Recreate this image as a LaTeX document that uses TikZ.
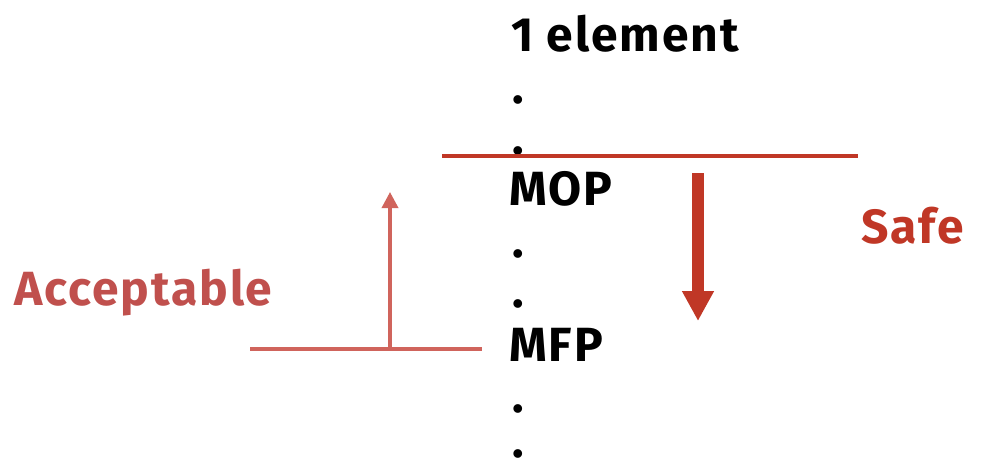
\documentclass[tikz,border=0pt]{standalone}
\usepackage{fontspec}
\setmainfont{Fira Sans}[LetterSpace=4]
\usetikzlibrary{arrows.meta}
\definecolor{safered}{RGB}{192,55,38}
\definecolor{accred}{RGB}{192,80,77}
\definecolor{acclight}{RGB}{208,100,92}
\tikzset{
  lbl/.style={font=\fontsize{48}{54}\selectfont\bfseries, inner sep=0pt, anchor=base west},
  dotlbl/.style={font=\fontsize{48}{54}\selectfont\bfseries, inner sep=0pt, anchor=base, text depth=0pt, text height=8pt},
}
\begin{document}
\begin{tikzpicture}[x=1pt,y=-1pt]
\useasboundingbox (0,0) rectangle (987,466);
\node[lbl] (elem) at (511,51) {1 element};
\node[dotlbl] (d1) at (518,103) {.};
\node[dotlbl] (d2) at (518,154) {.};
\node[lbl] (mop) at (509,205) {MOP};
\node[dotlbl] (d3) at (518,257) {.};
\node[dotlbl] (d4) at (518,307) {.};
\node[lbl] (mfp) at (509,361) {MFP};
\node[dotlbl] (d5) at (518,412) {.};
\node[dotlbl] (d6) at (518,457) {.};
\node[lbl, text=safered] (safe) at (861,243) {Safe};
\node[lbl, text=accred] (acc) at (14,305) {Acceptable};
% top line
\coordinate (t1) at (442,156);
\coordinate (t2) at (858,156);
\draw[safered, line width=4] (t1) -- (t2);
\coordinate (s1) at (698,173);
\coordinate (s2) at (698,321);
\draw[safered, line width=12, -{Triangle[length=30,width=30]}] (s1) -- (s2);
% bottom line
\coordinate (b1) at (250,349);
\coordinate (b2) at (482,349);
\coordinate (bm) at (390,349);
\coordinate (bt) at (390,192);
\draw[acclight, line width=4] (b1) -- (b2);
\draw[acclight, line width=3.5, -{Triangle[length=16,width=16]}] (bm) -- (bt);
\end{tikzpicture}
\end{document}
